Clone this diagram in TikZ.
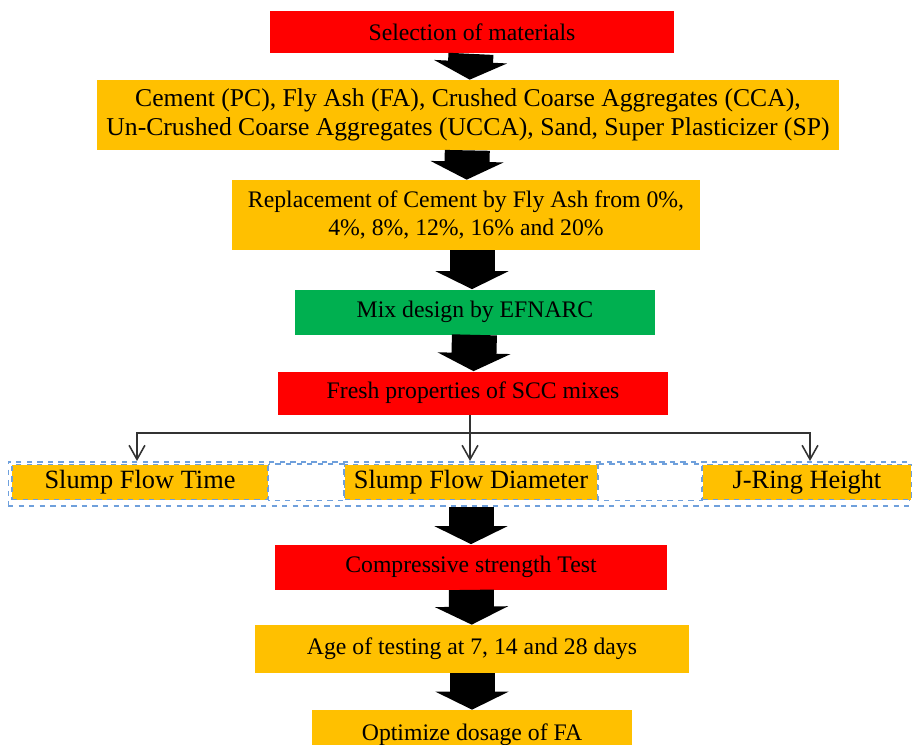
\documentclass[tikz,border=0pt]{standalone}
\usepackage{fontspec}
\setmainfont{Liberation Serif}
\usepackage{xcolor}
\usetikzlibrary{positioning, arrows.meta, calc}

\definecolor{boxred}{HTML}{FF0000}
\definecolor{boxorange}{HTML}{FFC000}
\definecolor{boxgreen}{HTML}{00B050}
\definecolor{celldash}{HTML}{6FA0DC}

\begin{document}
\begin{tikzpicture}[
    x=0.02cm, y=-0.02cm,
    font=\fontsize{13.5}{15.5}\selectfont,
    % ---- step boxes ----
    stepbox/.style={
        rectangle,
        draw=none,
        align=center,
        inner sep=2pt,
        minimum height=0.86cm
    },
    redbox/.style={stepbox, fill=boxred},
    orangebox/.style={stepbox, fill=boxorange},
    greenbox/.style={stepbox, fill=boxgreen},
    % ---- test cells ----
    celldraw/.style={draw=celldash, dashed, line width=0.6pt},
    cell/.style={
        rectangle,
        celldraw,
        fill=boxorange,
        font=\fontsize{15}{17}\selectfont,
        minimum height=0.7cm,
        inner sep=0pt
    },
    % ---- thick block arrow ----
    bigarrow/.style={
        line width=0.9cm,
        -{Triangle[length=0.36cm, width=1.45cm]}
    },
    % ---- thin branch arrow ----
    branch/.style={line width=0.9pt, black!80},
    tip/.style={-{Straight Barb[length=8pt, width=9pt]}}
]

\useasboundingbox (0,0) rectangle (912,744);
\clip (0,0) rectangle (912,744);

% ---------- main chain ----------
\node[redbox, minimum width=8.1cm] (Sel) at (472,32) {Selection of materials};

\node[orangebox, minimum width=14.86cm, minimum height=1.4cm,
      font=\fontsize{14.6}{16.5}\selectfont] (Mat) at (468,115)
    {Cement (PC), Fly Ash (FA), Crushed Coarse Aggregates (CCA),\\
     Un-Crushed Coarse Aggregates (UCCA), Sand, Super Plasticizer (SP)};

\node[orangebox, minimum width=9.36cm, minimum height=1.4cm] (Rep) at (466,215)
    {Replacement of Cement by Fly Ash from 0\%,\\
     4\%, 8\%, 12\%, 16\% and 20\%};

\node[greenbox, minimum width=7.2cm, minimum height=0.9cm] (Mix) at (475,312)
    {Mix design by EFNARC};

\node[redbox, minimum width=7.8cm] (Fresh) at (473,393)
    {Fresh properties of SCC mixes};

% ---------- fresh property tests ----------
\node[celldraw, rectangle, minimum width=18.04cm, minimum height=0.88cm] (Row) at (459,484) {};

\node[cell, minimum width=5.12cm] (Time) at (140,482) {Slump Flow Time};
\node[cell, minimum width=5.06cm] (Diam) at (471,482) {Slump Flow Diameter};
\node[cell, minimum width=4.18cm] (Ring) at (807,482) {J-Ring Height};

\draw[celldraw] (Time.north east) rectangle (Diam.south west);
\draw[celldraw] (Diam.north east) rectangle (Ring.south west);

\coordinate (Split) at ($(Fresh.south)+(-3,18)$);

\draw[branch] (Fresh.south -| Split) -- (Split);
\draw[branch, tip] (Split) -| ($(Time.north)+(-3,-3)$);
\draw[branch, tip] (Split) -- ($(Split |- Diam.north)+(0,-3)$);
\draw[branch, tip] (Split) -| ($(Ring.north)+(3,-3)$);

% ---------- strength part ----------
\node[redbox, minimum width=7.86cm, minimum height=0.9cm] (Comp) at (471,567)
    {Compressive strength Test};

\node[orangebox, minimum width=8.7cm, minimum height=0.96cm] (Age) at (472,649)
    {Age of testing at 7, 14 and 28 days};

\node[orangebox, minimum width=6.4cm, minimum height=1.0cm] (Opt) at (472,735)
    {Optimize dosage of FA};

% ---------- block arrows ----------
\draw[bigarrow] (Sel) -- (Mat);
\draw[bigarrow] (Mat) -- (Rep);
\draw[bigarrow] ($(Rep.south)+(6,0)$) -- ($(Mix.north)+(-3,0)$);
\draw[bigarrow] (Mix) -- (Fresh);
\draw[bigarrow] (Row.south -| Comp.north) -- (Comp.north);
\draw[bigarrow] (Comp) -- (Age);
\draw[bigarrow] (Age) -- (Opt);

\end{tikzpicture}
\end{document}
